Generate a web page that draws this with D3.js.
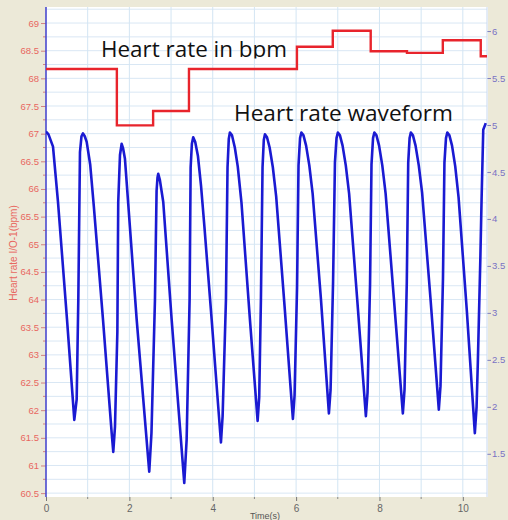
<!DOCTYPE html>
<html><head><meta charset="utf-8">
<script src="https://cdn.jsdelivr.net/npm/d3@7"></script>
<style>html,body{margin:0;padding:0;background:#ece9d8;}svg{display:block}</style>
</head><body>
<svg id="chart" width="508" height="520"></svg>
<script>
// ---- data ----
const rateTimes  = [0, 1.70, 2.57, 3.43, 6.02, 6.88, 7.79, 8.66, 9.52, 10.43, 10.58];
const rateValues = [68.17, 67.15, 67.41, 68.17, 68.57, 68.86, 68.49, 68.46, 68.69, 68.40, 68.40];

const waveTimes = [
  0.000,0.060,0.168,0.288,0.504,0.679, 0.736,0.775,0.815,0.851,0.887,
  0.930,0.976,1.060,1.150,1.367,1.576,1.614, 1.655,1.712,1.733,1.775,1.815,
  1.850,1.894,2.175,2.477, 2.530,2.614,2.653,2.675,2.693,
  2.730,2.813,3.014,3.317, 3.374,3.445,3.470,3.500,3.532,
  3.580,3.645,3.720,3.800,3.974,4.197, 4.237,4.317,4.355,4.385,4.412,
  4.462,4.530,4.600,4.690,4.892,5.077, 5.115,5.156,5.195,5.225,5.252,
  5.302,5.365,5.442,5.522,5.722,5.923, 5.963,6.023,6.058,6.095,6.127,
  6.177,6.240,6.317,6.397,6.597,6.787, 6.827,6.887,6.932,6.970,7.002,
  7.052,7.115,7.192,7.272,7.472,7.674, 7.714,7.774,7.809,7.846,7.878,
  7.928,7.991,8.068,8.148,8.348,8.561, 8.601,8.656,8.690,8.723,8.753,
  8.803,8.866,8.943,9.023,9.223,9.424, 9.464,9.524,9.559,9.596,9.628,
  9.678,9.741,9.818,9.898,10.098,10.288, 10.330,10.360,10.420,10.450,10.490,10.550
];
const waveValues = [
  4.93,4.90,4.77,4.18,2.93,1.86, 2.08,3.14,4.71,4.88,4.91,
  4.88,4.82,4.58,4.12,2.93,1.72,1.52, 1.79,2.80,4.18,4.68,4.80,
  4.75,4.64,2.93,1.31, 1.72,3.14,4.30,4.44,4.48,
  4.42,4.18,2.93,1.19, 1.65,3.14,4.55,4.80,4.87,
  4.82,4.67,4.35,3.92,2.93,1.62, 1.90,3.14,4.55,4.85,4.92,
  4.89,4.76,4.56,4.17,2.93,1.85, 2.10,3.14,4.55,4.84,4.90,
  4.87,4.76,4.55,4.24,3.08,1.87, 2.12,3.27,4.57,4.86,4.92,
  4.89,4.78,4.57,4.27,3.14,1.93, 2.18,3.33,4.60,4.86,4.92,
  4.89,4.78,4.57,4.27,3.11,1.90, 2.15,3.30,4.58,4.86,4.92,
  4.89,4.78,4.57,4.27,3.14,1.93, 2.18,3.33,4.60,4.86,4.92,
  4.89,4.78,4.57,4.28,3.16,1.97, 2.22,3.37,4.60,4.86,4.92,
  4.89,4.78,4.56,4.23,3.01,1.72, 2.00,2.47,3.57,4.21,4.95,5.02
];

const leftTicks  = [60.5,61,61.5,62,62.5,63,63.5,64,64.5,65,65.5,66,66.5,67,67.5,68,68.5,69];
const rightTicks = [1.5,2,2.5,3,3.5,4,4.5,5,5.5,6];
const timeTicks  = [0,2,4,6,8,10];
const timeMinor  = [1,3,5,7,9];

const leftTitle  = "Heart rate I/O-1(bpm)";
const timeTitle  = "Time(s)";
const rateLabel  = "Heart rate in bpm";
const waveLabel  = "Heart rate waveform";

// ---- layout ----
const L = 46, R = 487, T = 7, B = 497;
const svg = d3.select("#chart");

const x  = d3.scaleLinear().domain([0, 10.58]).range([L, R]);
const yL = d3.scaleLinear().domain([60.43, 69.29]).range([B, T]);
const yR = d3.scaleLinear().domain([1.04, 6.256]).range([B, T]);

svg.append("rect").attr("width",508).attr("height",520).attr("fill","#ece9d8");
svg.append("rect").attr("x",L).attr("y",T).attr("width",R-L+1).attr("height",B-T).attr("fill","#ffffff");

// grid
const gridH = d3.range(0, 36).map(i => 60.5 + i*0.25).filter(v => v <= 69.25);
svg.append("g").selectAll("line").data(gridH).join("line")
  .attr("x1",L).attr("x2",R).attr("y1",d=>yL(d)).attr("y2",d=>yL(d))
  .attr("stroke","#d9e7f4").attr("stroke-width",1);
svg.append("g").selectAll("line").data(d3.range(1,11)).join("line")
  .attr("x1",d=>x(d)).attr("x2",d=>x(d)).attr("y1",T).attr("y2",B)
  .attr("stroke","#d3e5f3").attr("stroke-width",1);

// clip
svg.append("clipPath").attr("id","plotclip").append("rect")
  .attr("x",L).attr("y",T).attr("width",R-L+1).attr("height",B-T);

// left axis
const gl = svg.append("g").attr("transform",`translate(${L},0)`);
gl.call(d3.axisLeft(yL).tickValues(leftTicks).tickSize(5).tickPadding(2).tickFormat(d3.format("~g")));
gl.select(".domain").remove();
gl.selectAll(".tick line").attr("stroke","#d08080");
gl.selectAll(".tick text").attr("fill","#e8675f").attr("font-family","Liberation Sans, Arial, sans-serif").attr("font-size",9.5);
gl.selectAll(".minor").data(leftTicks.slice(0,-1).map(v=>v+0.25)).join("line")
  .attr("x1",-3).attr("x2",0).attr("y1",d=>yL(d)).attr("y2",d=>yL(d)).attr("stroke","#d08080");
svg.append("line").attr("x1",L).attr("x2",L).attr("y1",T).attr("y2",B).attr("stroke","#4a4ad0").attr("stroke-width",1.6);

// right axis
const gr = svg.append("g").attr("transform",`translate(${R},0)`);
gr.call(d3.axisRight(yR).tickValues(rightTicks).tickSize(4).tickPadding(1).tickFormat(d3.format("~g")));
gr.select(".domain").remove();
gr.selectAll(".tick line").attr("stroke","#8080c0");
gr.selectAll(".tick text").attr("fill","#7a72c4").attr("font-family","Liberation Sans, Arial, sans-serif").attr("font-size",9.5);
svg.append("line").attr("x1",R).attr("x2",R).attr("y1",T).attr("y2",B).attr("stroke","#c8d8ee").attr("stroke-width",1);

// bottom axis
const gb = svg.append("g").attr("transform",`translate(0,${B})`);
gb.call(d3.axisBottom(x).tickValues(timeTicks).tickSize(4).tickPadding(4).tickFormat(d3.format("d")));
gb.select(".domain").remove();
gb.selectAll(".tick line").attr("stroke","#777");
gb.selectAll(".tick text").attr("fill","#666").attr("font-family","Liberation Sans, Arial, sans-serif").attr("font-size",10);
gb.selectAll(".minor").data(timeMinor).join("line")
  .attr("x1",d=>x(d)).attr("x2",d=>x(d)).attr("y1",0).attr("y2",2).attr("stroke","#888");

// titles
svg.append("text").attr("transform","translate(17,253) rotate(-90)").attr("text-anchor","middle")
  .attr("fill","#e8675f").attr("font-family","Liberation Sans, Arial, sans-serif").attr("font-size",10).text(leftTitle);
svg.append("text").attr("x",265).attr("y",519).attr("text-anchor","middle")
  .attr("fill","#555").attr("font-family","Liberation Sans, Arial, sans-serif").attr("font-size",9).text(timeTitle);

// series
const rateData = rateTimes.map((t,i)=>[t, rateValues[i]]);
const waveData = waveTimes.map((t,i)=>[t, waveValues[i]]);
const plot = svg.append("g").attr("clip-path","url(#plotclip)");
plot.append("path").datum(rateData)
  .attr("d", d3.line().x(d=>x(d[0])).y(d=>yL(d[1])).curve(d3.curveStepAfter))
  .attr("fill","none").attr("stroke","#e8242c").attr("stroke-width",2.4);
plot.append("path").datum(waveData)
  .attr("d", d3.line().x(d=>x(d[0])).y(d=>yR(d[1])))
  .attr("fill","none").attr("stroke","#1a1ad2").attr("stroke-width",2.6).attr("stroke-linejoin","round");

// annotations
svg.append("clipPath").attr("id","lblclip").append("rect").attr("x",0).attr("y",0).attr("width",508).attr("height",58.5);
svg.append("text").attr("x",101).attr("y",57).attr("clip-path","url(#lblclip)")
  .attr("font-family","Open Sans, sans-serif").attr("font-size",22).attr("fill","#111")
  .attr("textLength",186).attr("lengthAdjust","spacingAndGlyphs").text(rateLabel);
svg.append("text").attr("x",234).attr("y",121)
  .attr("font-family","Open Sans, sans-serif").attr("font-size",22).attr("fill","#111")
  .attr("textLength",219).attr("lengthAdjust","spacingAndGlyphs").text(waveLabel);
</script>
</body></html>
